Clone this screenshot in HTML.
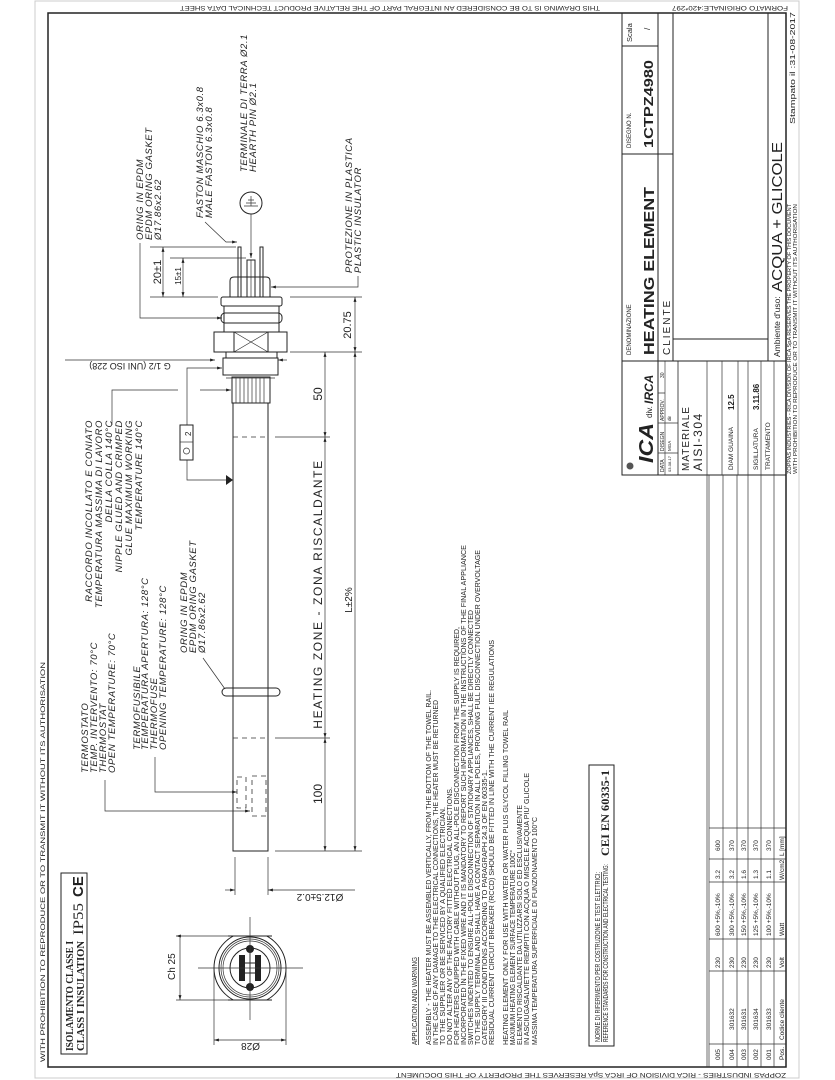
<!DOCTYPE html>
<html><head><meta charset="utf-8"><style>
html,body{margin:0;padding:0;background:#fff}
svg{display:block}
text{font-family:"Liberation Sans",sans-serif;fill:#222}
.it{font-style:italic}
.l{stroke:#222;fill:none;stroke-width:1}
.t{stroke:#333;fill:none;stroke-width:0.7}
.d{stroke:#333;fill:none;stroke-width:0.8;stroke-dasharray:5 4}
</style></head><body>
<svg width="835" height="1080" viewBox="0 0 835 1080" xmlns="http://www.w3.org/2000/svg">
<defs>
<marker id="a" viewBox="0 0 10 10" refX="10" refY="5" markerWidth="7" markerHeight="7" orient="auto-start-reverse"><path d="M0,2 L10,5 L0,8 z" fill="#222"/></marker>
</defs>
<rect x="35" y="1" width="764" height="1077" fill="none" stroke="#ccc" stroke-width="1"/>
<rect x="48" y="13" width="738" height="1054" fill="none" stroke="#222" stroke-width="1.5"/>

<text transform="translate(600,6) rotate(180)" font-size="6" textLength="420" lengthAdjust="spacingAndGlyphs">THIS DRAWING IS TO BE CONSIDERED AN INTEGRAL PART OF THE RELATIVE PRODUCT TECHNICAL DATA SHEET</text>
<text transform="translate(788,6) rotate(180)" font-size="6.5" textLength="116" lengthAdjust="spacingAndGlyphs">FORMATO ORIGINALE:420*297</text>
<text transform="translate(45,1062) rotate(-90)" font-size="6" textLength="400" lengthAdjust="spacingAndGlyphs">WITH PROHIBITION TO REPRODUCE OR TO TRANSMIT IT WITHOUT ITS AUTHORISATION</text>
<text transform="translate(786,1073) rotate(180)" font-size="6" textLength="390" lengthAdjust="spacingAndGlyphs">ZOPPAS INDUSTRIES - RICA DIVISION OF IRCA SpA RESERVES THE PROPERTY OF THIS DOCUMENT</text>
<text transform="translate(795,124) rotate(-90)" font-size="7.5" textLength="112" lengthAdjust="spacingAndGlyphs">Stampato il :31-08-2017</text>

<g class="l" stroke-width="1.2">
<path d="M622,13 V475 H786"/>
<path d="M658,13 V154"/><path d="M622,46 H658"/><path d="M622,154 H673"/>
<path d="M658,361 V154"/><path d="M673,13 V361"/><path d="M768,13 V361"/>
<path d="M622,361 H786"/><path d="M673,339 H768"/>
<path d="M658,361 V475"/><path d="M678,361 V475" stroke-width="0.8"/><path d="M665,361 V475" stroke-width="0.6"/>
</g>
<g class="t">
<path d="M658,453 H678 M658,423 H678 M658,393 H665"/>
<path d="M707,361 V1067 M722,361 V475 M738,361 V475 M748,361 V475 M761,361 V475 M774,361 V475"/>
</g>
<text transform="translate(632,42) rotate(-90)" font-size="7.5">Scala</text>
<text transform="translate(650,30) rotate(-90)" font-size="8">/</text>
<text transform="translate(631,148) rotate(-90)" font-size="6">DISEGNO N.</text>
<text transform="translate(653,148) rotate(-90)" font-size="13" font-weight="bold" textLength="88" lengthAdjust="spacingAndGlyphs">1CTPZ4980</text>
<text transform="translate(631,355) rotate(-90)" font-size="6">DENOMINAZIONE</text>
<text transform="translate(654,355) rotate(-90)" font-size="15" font-weight="bold" textLength="168" lengthAdjust="spacingAndGlyphs">HEATING ELEMENT</text>
<text transform="translate(670,355) rotate(-90)" font-size="10" letter-spacing="2">CLIENTE</text>
<text transform="translate(780,357) rotate(-90)" font-size="8.5">Ambiente d'uso:</text>
<text transform="translate(782,292) rotate(-90)" font-size="15" textLength="150" lengthAdjust="spacingAndGlyphs">ACQUA  +  GLICOLE</text>
<text transform="translate(791,474) rotate(-90)" font-size="5" textLength="270" lengthAdjust="spacingAndGlyphs">ZOPPAS INDUSTRIES - RICA DIVISION OF IRCA SpA RESERVES THE PROPERTY OF THIS DOCUMENT</text>
<text transform="translate(797,474) rotate(-90)" font-size="5" textLength="270" lengthAdjust="spacingAndGlyphs">WITH PROHIBITION TO REPRODUCE OR TO TRANSMIT IT WITHOUT ITS AUTHORISATION</text>
<circle cx="630" cy="466" r="3.5" fill="#555"/>
<text transform="translate(653,463) rotate(-90)" font-size="20" font-weight="bold" font-style="italic" textLength="40" lengthAdjust="spacingAndGlyphs">ICA</text>
<text transform="translate(652,418) rotate(-90)" font-size="8">div.</text>
<text transform="translate(653,404) rotate(-90)" font-size="12" font-weight="bold" font-style="italic">IRCA</text>
<text transform="translate(664,472) rotate(-90)" font-size="5">DATA</text>
<text transform="translate(664,451) rotate(-90)" font-size="5">DISEGN</text>
<text transform="translate(664,421) rotate(-90)" font-size="5">APPROV.</text>
<text transform="translate(664,378) rotate(-90)" font-size="5">30</text>
<text transform="translate(671,472) rotate(-90)" font-size="4">03-08-17</text>
<text transform="translate(671,451) rotate(-90)" font-size="4.5">MGA</text>
<text transform="translate(671,421) rotate(-90)" font-size="4.5">dir</text>
<text transform="translate(689,471) rotate(-90)" font-size="10" letter-spacing="1">MATERIALE</text>
<text transform="translate(702,471) rotate(-90)" font-size="12" letter-spacing="1.5">AISI-304</text>
<text transform="translate(733,470) rotate(-90)" font-size="6.5">DIAM GUAINA</text>
<text transform="translate(734,410) rotate(-90)" font-size="8" font-weight="bold">12.5</text>
<text transform="translate(758,470) rotate(-90)" font-size="6.5">SIGILLATURA</text>
<text transform="translate(759,410) rotate(-90)" font-size="8" font-weight="bold">3.11.86</text>
<text transform="translate(770,470) rotate(-90)" font-size="6.5">TRATTAMENTO</text>

<g class="t">
<path d="M709,475 V1067 M723,475 V1067 M737,475 V1067 M748,475 V1067 M761,475 V1067 M774,475 V1067"/>
<path d="M709,828 H786 M709,859 H786 M709,882 H786 M709,939 H786 M709,971 H786 M709,1044 H786"/>
</g>
<g font-size="6.5">
<text transform="translate(720,1060) rotate(-90)">005</text>
<text transform="translate(720,968) rotate(-90)">230</text>
<text transform="translate(720,936) rotate(-90)">600 +5%,-10%</text>
<text transform="translate(720,879) rotate(-90)">3.2</text>
<text transform="translate(720,851) rotate(-90)">600</text>
<text transform="translate(734,1060) rotate(-90)">004</text>
<text transform="translate(734,1030) rotate(-90)">301632</text>
<text transform="translate(734,968) rotate(-90)">230</text>
<text transform="translate(734,936) rotate(-90)">300 +5%,-10%</text>
<text transform="translate(734,879) rotate(-90)">3.2</text>
<text transform="translate(734,851) rotate(-90)">370</text>
<text transform="translate(746,1060) rotate(-90)">003</text>
<text transform="translate(746,1030) rotate(-90)">301631</text>
<text transform="translate(746,968) rotate(-90)">230</text>
<text transform="translate(746,936) rotate(-90)">150 +5%,-10%</text>
<text transform="translate(746,879) rotate(-90)">1.6</text>
<text transform="translate(746,851) rotate(-90)">370</text>
<text transform="translate(758,1060) rotate(-90)">002</text>
<text transform="translate(758,1030) rotate(-90)">301634</text>
<text transform="translate(758,968) rotate(-90)">230</text>
<text transform="translate(758,936) rotate(-90)">125 +5%,-10%</text>
<text transform="translate(758,879) rotate(-90)">1.3</text>
<text transform="translate(758,851) rotate(-90)">370</text>
<text transform="translate(771,1060) rotate(-90)">001</text>
<text transform="translate(771,1030) rotate(-90)">301633</text>
<text transform="translate(771,968) rotate(-90)">230</text>
<text transform="translate(771,936) rotate(-90)">100 +5%,-10%</text>
<text transform="translate(771,879) rotate(-90)">1.1</text>
<text transform="translate(771,851) rotate(-90)">370</text>
<text transform="translate(784,1060) rotate(-90)">Pos.</text>
<text transform="translate(784,1040) rotate(-90)">Codice cliente</text>
<text transform="translate(784,968) rotate(-90)">Volt</text>
<text transform="translate(784,936) rotate(-90)">Watt</text>
<text transform="translate(784,880) rotate(-90)">W/cm2</text>
<text transform="translate(784,856) rotate(-90)">L [mm]</text>
</g>

<g font-size="7">
<text transform="translate(417,1045) rotate(-90)" textLength="88" lengthAdjust="spacingAndGlyphs" text-decoration="underline">APPLICATION AND WARNING</text>
<text transform="translate(431,1045) rotate(-90)" textLength="355" lengthAdjust="spacingAndGlyphs">ASSEMBLY - THE HEATER MUST BE ASSEMBLED VERTICALLY, FROM THE BOTTOM OF THE TOWEL RAIL.</text>
<text transform="translate(438,1045) rotate(-90)" textLength="345" lengthAdjust="spacingAndGlyphs">IN THE CASE OF ANY DAMAGE TO THE ELECTRICAL CONNECTIONS, THE HEATER MUST BE RETURNED</text>
<text transform="translate(445,1045) rotate(-90)" textLength="238" lengthAdjust="spacingAndGlyphs">TO THE SUPPLIER OR BE SERVICED BY A QUALIFIED ELECTRICIAN.</text>
<text transform="translate(452,1045) rotate(-90)" textLength="258" lengthAdjust="spacingAndGlyphs">DO NOT ALTER ANY OF THE FACTORY FITTED ELECTRICAL CONNECTIONS.</text>
<text transform="translate(459,1045) rotate(-90)" textLength="418" lengthAdjust="spacingAndGlyphs">FOR HEATERS EQUIPPED WITH CABLE WITHOUT PLUG, AN ALL-POLE DISCONNECTION FROM THE SUPPLY IS REQUIRED,</text>
<text transform="translate(466,1045) rotate(-90)" textLength="500" lengthAdjust="spacingAndGlyphs">INCORPORATED IN THE FIXED WIRE AND IT IS MANDATORY TO REPORT SUCH INFORMATION IN THE INSTRUCTIONS OF THE FINAL APPLIANCE</text>
<text transform="translate(473,1045) rotate(-90)" textLength="435" lengthAdjust="spacingAndGlyphs">SWITCHES INDENTED TO ENSURE ALL-POLE DISCONNECTION OF STATIONARY APPLIANCES, SHALL BE DIRECTLY CONNECTED</text>
<text transform="translate(480,1045) rotate(-90)" textLength="495" lengthAdjust="spacingAndGlyphs">TO THE SUPPLY TERMINAL AND SHALL HAVE A CONTACT SEPARATION IN ALL POLES, PROVIDING FULL DISCONNECTION UNDER OVERVOLTAGE</text>
<text transform="translate(487,1045) rotate(-90)" textLength="275" lengthAdjust="spacingAndGlyphs">CATEGORY III CONDITIONS ACCORDING TO PARAGRAPH 24.3 OF EN 60335-1.</text>
<text transform="translate(494,1045) rotate(-90)" textLength="405" lengthAdjust="spacingAndGlyphs">RESIDUAL CURRENT CIRCUIT BREAKER (RCCD) SHOULD BE FITTED IN LINE WITH THE CURRENT IEE REGULATIONS</text>
<text transform="translate(508,1045) rotate(-90)" textLength="335" lengthAdjust="spacingAndGlyphs">HEATING ELEMENT ONLY FOR USE WITH WATER OR WATER PLUS GLYCOL FILLING TOWEL RAIL</text>
<text transform="translate(515,1045) rotate(-90)" textLength="195" lengthAdjust="spacingAndGlyphs">MAXIMUM HEATING ELEMENT SURFACE TEMPERATURE 100C°</text>
<text transform="translate(522,1045) rotate(-90)" textLength="240" lengthAdjust="spacingAndGlyphs">ELEMENTO RISCALDANTE DA UTILIZZARSI SOLO ED ESCLUSIVAMENTE</text>
<text transform="translate(529,1045) rotate(-90)" textLength="272" lengthAdjust="spacingAndGlyphs">IN ASCIUGASALVIETTE RIEMPITI CON ACQUA O MISCELE ACQUA PIU' GLICOLE</text>
<text transform="translate(537,1045) rotate(-90)" textLength="228" lengthAdjust="spacingAndGlyphs">MASSIMA TEMPERATURA SUPERFICIALE DI FUNZIONAMENTO 100°C</text>
<text transform="translate(600,1042) rotate(-90)" textLength="170" lengthAdjust="spacingAndGlyphs" text-decoration="underline">NORME DI RIFERIMENTO PER COSTRUZIONE E TEST ELETTRICI:</text>
<text transform="translate(608,1042) rotate(-90)" textLength="178" lengthAdjust="spacingAndGlyphs">REFERENCE STANDARDS FOR CONSTRUCTION AND ELECTRICAL TESTING:</text>
</g>
<text transform="translate(609,856) rotate(-90)" font-size="12" font-weight="bold" textLength="86" lengthAdjust="spacingAndGlyphs" style="font-family:'Liberation Serif',serif">CEI EN 60335-1</text>
<rect x="589" y="765" width="25" height="281" class="l"/>

<rect x="61" y="873" width="26" height="181" class="l" stroke-width="1.5"/>
<text transform="translate(73,1051) rotate(-90)" font-size="10.5" font-weight="bold" textLength="110" lengthAdjust="spacingAndGlyphs" style="font-family:'Liberation Serif',serif">ISOLAMENTO CLASSE I</text>
<text transform="translate(84,1051) rotate(-90)" font-size="10.5" font-weight="bold" textLength="110" lengthAdjust="spacingAndGlyphs" style="font-family:'Liberation Serif',serif">CLASS I INSULATION</text>
<text transform="translate(83,935) rotate(-90)" font-size="15" textLength="32" lengthAdjust="spacingAndGlyphs" style="font-family:'Liberation Serif',serif">IP55</text>
<text transform="translate(83,897) rotate(-90)" font-size="15" font-weight="bold">CE</text>

<g class="l">
<clipPath id="cp"><rect x="200" y="936" width="100" height="64"/></clipPath>
<circle cx="250" cy="968" r="36" clip-path="url(#cp)"/>
<path d="M228,936 H272 M228,1000 H272"/>
<circle cx="250" cy="968" r="31"/><circle cx="250" cy="968" r="29" class="t"/><circle cx="250" cy="968" r="27" class="t"/>
<circle cx="250" cy="968" r="20"/>
</g>
<rect x="239" y="955" width="6" height="26" fill="#222"/>
<rect x="255" y="955" width="6" height="26" fill="#222"/>
<path d="M245,963 H255 M245,973 H255 M250,950 V986" class="l"/>
<circle cx="250" cy="949" r="4" fill="#222"/><circle cx="250" cy="987" r="4" fill="#222"/>
<g class="t">
<path d="M198,968 H303 M250,917 V1020"/>
<path d="M176,936 H228 M176,1000 H228 M180,936 V1000" marker-start="url(#a)" marker-end="url(#a)"/>
<path d="M214,968 V1045 M286,968 V1045"/>
<path d="M214,1040 H286" marker-start="url(#a)" marker-end="url(#a)"/>
</g>
<text transform="translate(175,980) rotate(-90)" font-size="10">Ch 25</text>
<text transform="translate(260,1043) rotate(180)" font-size="10">Ø28</text>

<g class="l">
<rect x="238" y="247" width="3" height="50"/>
<rect x="260" y="247" width="3" height="50"/>
<rect x="247" y="260" width="8" height="37"/><path d="M251,260 V297" class="t"/>
<path d="M230,297 V281 Q230,277 234,277 H266 Q270,277 270,281 V297"/>
<rect x="221" y="297" width="61" height="9" rx="2"/>
<rect x="224" y="306" width="55" height="26"/>
<rect x="221" y="313" width="61" height="10" rx="4"/>
<rect x="214" y="332" width="73" height="20"/>
<rect x="234" y="332" width="34" height="20"/><path d="M234,332 L268,352 M268,332 L234,352" class="t"/>
<rect x="226" y="352" width="51" height="6"/>
<rect x="223" y="358" width="55" height="17"/>
<path d="M226,375 H275 M226,378 H275" class="t"/>
<rect x="232" y="377" width="38" height="26"/>
<path d="M233,403 V851 H268 V403"/>
<rect x="222" y="688" width="58" height="8" rx="4"/>
</g>
<g class="t">
<path d="M236,378 V403 M240,378 V403 M244,378 V403 M248,378 V403 M252,378 V403 M256,378 V403 M260,378 V403 M264,378 V403"/>
</g>
<g class="d">
<path d="M233,437 H268 M233,738 H268"/>
<rect x="237" y="777" width="9" height="31"/>
<rect x="252" y="776" width="14" height="40"/>
</g>

<g class="t">
<path d="M150,247 H236 M170,258 H246 M150,297 H218 M290,297 H362 M290,352 H362 M275,437 H330 M275,738 H330 M275,851 H362"/>
<path d="M163,247 V297" marker-start="url(#a)" marker-end="url(#a)"/>
<path d="M183,258 V297" marker-start="url(#a)" marker-end="url(#a)"/>
<path d="M355,297 V352" marker-start="url(#a)" marker-end="url(#a)"/>
<path d="M325,352 V437" marker-start="url(#a)" marker-end="url(#a)"/>
<path d="M325,437 V738" marker-start="url(#a)" marker-end="url(#a)"/>
<path d="M325,738 V851" marker-start="url(#a)" marker-end="url(#a)"/>
<path d="M355,352 V851" marker-start="url(#a)" marker-end="url(#a)"/>
<path d="M235,857 V895 M268,857 V895"/>
<path d="M225,890 H235" marker-end="url(#a)"/><path d="M355,890 H268" marker-end="url(#a)"/>
</g>
<text transform="translate(161,272) rotate(-90)" font-size="11" text-anchor="middle">20±1</text>
<text transform="translate(181,276) rotate(-90)" font-size="8" text-anchor="middle">15±1</text>
<text transform="translate(351,325) rotate(-90)" font-size="11" text-anchor="middle">20.75</text>
<text transform="translate(322,394) rotate(-90)" font-size="12" text-anchor="middle">50</text>
<text transform="translate(322,594) rotate(-90)" font-size="12" letter-spacing="1.6" text-anchor="middle">HEATING ZONE  -  ZONA RISCALDANTE</text>
<text transform="translate(352,600) rotate(-90)" font-size="10" text-anchor="middle">L±2%</text>
<text transform="translate(322,794) rotate(-90)" font-size="12" text-anchor="middle">100</text>
<text transform="translate(320,894) rotate(180)" font-size="10" text-anchor="middle">Ø12.5±0.2</text>

<path d="M65,360 H215" class="t" marker-end="url(#a)"/>
<path d="M287,360 H278" class="t" marker-end="url(#a)"/>
<text transform="translate(130,363) rotate(180)" font-size="9" text-anchor="middle">G 1/2 (UNI ISO 228)</text>

<g class="it" font-size="9.5" letter-spacing="0.6">
<text transform="translate(143,240) rotate(-90)">ORING IN EPDM</text>
<text transform="translate(152,240) rotate(-90)">EPDM ORING GASKET</text>
<text transform="translate(161,240) rotate(-90)">Ø17.86x2.62</text>
<text transform="translate(203,218) rotate(-90)">FASTON MASCHIO 6.3x0.8</text>
<text transform="translate(212,218) rotate(-90)">MALE FASTON 6.3x0.8</text>
<text transform="translate(247,172) rotate(-90)">TERMINALE DI TERRA Ø2.1</text>
<text transform="translate(256,172) rotate(-90)">HEARTH PIN Ø2.1</text>
<text transform="translate(352,273) rotate(-90)">PROTEZIONE IN PLASTICA</text>
<text transform="translate(361,273) rotate(-90)">PLASTIC INSULATOR</text>
<g text-anchor="end">
<text transform="translate(92,420) rotate(-90)">RACCORDO INCOLLATO E CONIATO</text>
<text transform="translate(102,420) rotate(-90)">TEMPERATURA MASSIMA DI LAVORO</text>
<text transform="translate(112,420) rotate(-90)">DELLA COLLA 140°C</text>
<text transform="translate(122,420) rotate(-90)">NIPPLE GLUED AND CRIMPED</text>
<text transform="translate(132,420) rotate(-90)">GLUE MAXIMUM WORKING</text>
<text transform="translate(142,420) rotate(-90)">TEMPERATURE 140°C</text>
</g>
<text transform="translate(88,773) rotate(-90)">TERMOSTATO</text>
<text transform="translate(97,773) rotate(-90)">TEMP. INTERVENTO:  70°C</text>
<text transform="translate(106,773) rotate(-90)">THERMOSTAT</text>
<text transform="translate(115,773) rotate(-90)">OPEN TEMPERATURE:  70°C</text>
<text transform="translate(140,750) rotate(-90)">TERMOFUSIBILE</text>
<text transform="translate(148,750) rotate(-90)">TEMPERATURA APERTURA:  128°C</text>
<text transform="translate(157,750) rotate(-90)">THERMOFUSE</text>
<text transform="translate(166,750) rotate(-90)">OPENING TEMPERATURE:  128°C</text>
<text transform="translate(187,653) rotate(-90)">ORING IN EPDM</text>
<text transform="translate(196,653) rotate(-90)">EPDM ORING GASKET</text>
<text transform="translate(205,653) rotate(-90)">Ø17.86x2.62</text>
</g>

<g class="t">
<path d="M140,243 V318 H222" marker-end="url(#a)"/>
<path d="M205,222 L226,242 H237" marker-end="url(#a)"/>
<path d="M251,214 V258" marker-end="url(#a)"/>
<path d="M358,276 V287 H271" marker-end="url(#a)"/>
<path d="M112,425 V390 H178"/>
<path d="M200,390 H231" marker-end="url(#a)"/>
<path d="M187,425 V368 H222" marker-end="url(#a)"/>
<path d="M187,460 V480 H228"/>
<path d="M105,780 V811 H250" marker-end="url(#a)"/>
<path d="M155,757 V792 H237" marker-end="url(#a)"/>
<path d="M203,658 L225,689"/>
</g>
<path d="M226,475 L233,480 L226,485 z" fill="#222"/>
<rect x="180" y="425" width="13" height="35" class="l"/>
<path d="M180,442 H193" class="t"/>
<circle cx="186.5" cy="451" r="3" class="t"/>
<text transform="translate(191,436) rotate(-90)" font-size="8">2</text>
<circle cx="251" cy="203" r="11" class="l"/>
<path d="M244,206 H258 M246,203 H256 M248,200 H254 M251,206 V196" class="t"/>
</svg>
</body></html>
